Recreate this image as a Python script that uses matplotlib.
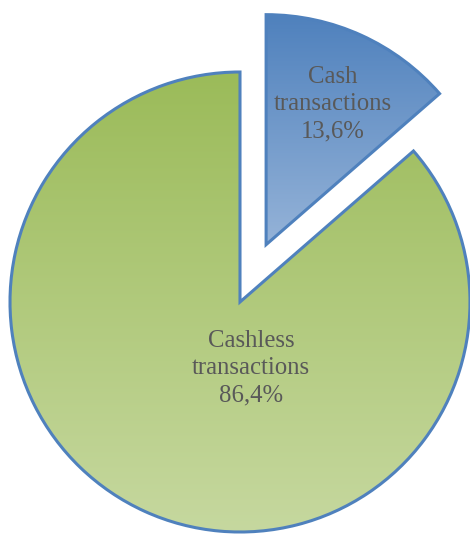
import matplotlib.pyplot as plt
import numpy as np
from matplotlib.colors import LinearSegmentedColormap

labels = ['Cash\ntransactions', 'Cashless\ntransactions']
values = [13.6, 86.4]
pct_labels = ['13,6%', '86,4%']
explode = [63, 0]

# gradient colours (top -> bottom)
grads = [('#4f81bd', '#95b3d8'), ('#9bbb59', '#c6d89f')]
edge = '#4f81bd'

W, H = 470, 534
fig = plt.figure(figsize=(W/100, H/100), dpi=100)
ax = fig.add_axes([0, 0, 1, 1])

cx, cy, r = 240, H - 302, 230
wedges, _ = ax.pie(values, radius=r, center=(cx, cy), startangle=90,
                   counterclock=False, explode=explode, frame=True,
                   wedgeprops=dict(edgecolor=edge, linewidth=2.2))

for w, (c1, c2) in zip(wedges, grads):
    w.set_facecolor('none')
    bb = w.get_path().get_extents()
    (x0, y0), (x1, y1) = bb.get_points()
    cmap = LinearSegmentedColormap.from_list('g', [c2, c1])
    grad = np.linspace(0, 1, 256).reshape(-1, 1)
    im = ax.imshow(grad, cmap=cmap, extent=(x0, x1, y0, y1), origin='lower',
                   aspect='auto', zorder=w.get_zorder() - 0.1)
    im.set_clip_path(w)

ax.set_xlim(0, W)
ax.set_ylim(0, H)
ax.set_aspect('equal')
ax.axis('off')

font = dict(family='Liberation Serif', size=17.8, color='#595959',
            ha='center', va='center', linespacing=1.32)
text_pos = [(333, H - 104), (251, H - 368)]
for lab, pct, (tx, ty) in zip(labels, pct_labels, text_pos):
    ax.text(tx, ty, lab + '\n' + pct, **font)

fig.savefig('out.png', dpi=100)
